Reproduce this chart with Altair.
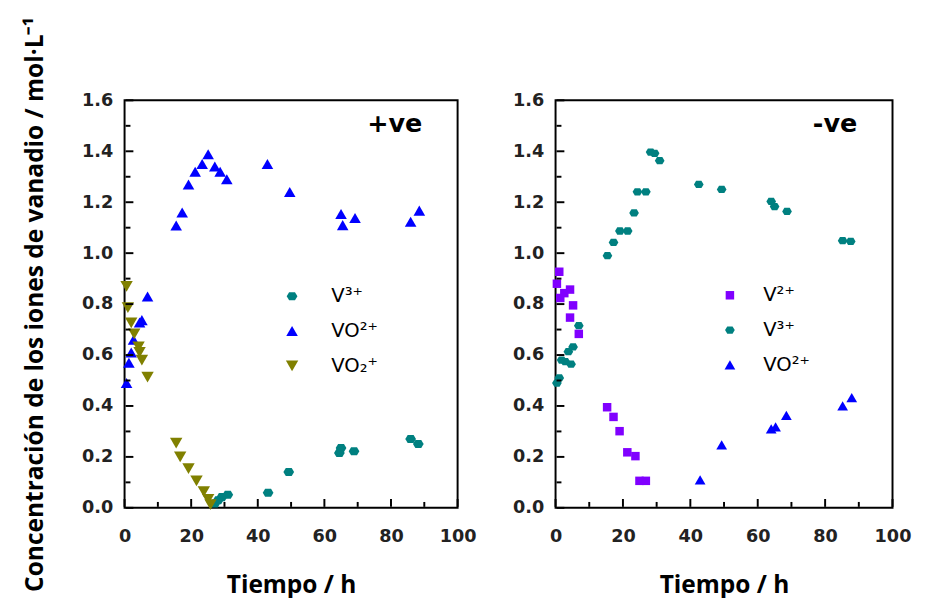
import altair as alt
import pandas as pd

# ---------------- data ----------------
# Left panel: +ve
pos_v3_t = [27.1, 28.1, 29.2, 31.0, 43.1, 49.3, 64.5, 65.0, 68.9, 85.9, 88.2]
pos_v3_c = [0.017, 0.030, 0.042, 0.051, 0.059, 0.141, 0.215, 0.235, 0.222, 0.270, 0.251]

pos_vo2_t = [0.6, 1.3, 2.0, 2.7, 4.5, 5.2, 6.9, 15.5, 17.3, 19.2, 21.2, 23.3, 25.1,
             27.1, 28.7, 30.7, 42.9, 49.6, 65.0, 65.5, 69.2, 85.9, 88.5]
pos_vo2_c = [0.49, 0.57, 0.61, 0.66, 0.728, 0.737, 0.83, 1.109, 1.16, 1.27, 1.32, 1.35, 1.388,
             1.34, 1.32, 1.29, 1.35, 1.24, 1.154, 1.11, 1.138, 1.123, 1.167]

pos_vo2p_t = [0.6, 1.0, 2.0, 2.9, 4.2, 4.5, 5.2, 6.9, 15.5, 16.7, 19.2, 21.6, 23.8, 25.1, 25.8]
pos_vo2p_c = [0.87, 0.786, 0.726, 0.683, 0.632, 0.61, 0.58, 0.513, 0.254, 0.20, 0.154, 0.106,
              0.064, 0.033, 0.013]

# Right panel: -ve
neg_v2_t = [0.4, 1.1, 1.4, 2.6, 4.3, 4.3, 5.2, 6.9, 15.3, 17.2, 19.0, 21.3, 23.7, 24.9, 26.8]
neg_v2_c = [0.88, 0.927, 0.824, 0.843, 0.857, 0.747, 0.795, 0.683, 0.395, 0.357, 0.301, 0.218,
            0.203, 0.106, 0.106]

neg_v3_t = [0.4, 1.1, 1.8, 2.9, 4.6, 3.8, 5.2, 6.9, 15.4, 17.2, 19.1, 21.4, 23.3, 24.3, 26.8,
            28.2, 29.4, 30.9, 42.5, 49.3, 64.0, 65.0, 68.7, 85.2, 87.6]
neg_v3_c = [0.49, 0.51, 0.58, 0.574, 0.564, 0.613, 0.632, 0.715, 0.99, 1.042, 1.087, 1.087, 1.158,
            1.241, 1.241, 1.397, 1.392, 1.363, 1.27, 1.25, 1.203, 1.183, 1.164, 1.049, 1.046]

neg_vo2_t = [42.9, 49.3, 64.0, 65.3, 68.5, 85.2, 87.9]
neg_vo2_c = [0.11, 0.247, 0.31, 0.318, 0.363, 0.40, 0.433]

ion_labels_pos = ["V³⁺", "VO²⁺", "VO₂⁺"]
ion_labels_neg = ["V²⁺", "V³⁺", "VO²⁺"]
panel_tags = ["+ve", "-ve"]

x_major = [0, 20, 40, 60, 80, 100]
x_minor = [10, 30, 50, 70, 90]
y_major = [0.0, 0.2, 0.4, 0.6, 0.8, 1.0, 1.2, 1.4, 1.6]
y_minor = [0.1, 0.3, 0.5, 0.7, 0.9, 1.1, 1.3, 1.5]

x_title = "Tiempo / h"
y_title = "Concentración de los iones de vanadio / mol·L⁻¹"


def frame(groups):
    rows = []
    for name, ts, cs in groups:
        for t, c in zip(ts, cs):
            rows.append({"ion": name, "t": t, "c": c})
    return pd.DataFrame(rows)


df_pos = frame([(ion_labels_pos[0], pos_v3_t, pos_v3_c),
                (ion_labels_pos[1], pos_vo2_t, pos_vo2_c),
                (ion_labels_pos[2], pos_vo2p_t, pos_vo2p_c)])
df_neg = frame([(ion_labels_neg[0], neg_v2_t, neg_v2_c),
                (ion_labels_neg[1], neg_v3_t, neg_v3_c),
                (ion_labels_neg[2], neg_vo2_t, neg_vo2_c)])

# ---------------- styling ----------------
H = 416
HEX = "M-1,0L-0.55,-0.75L0.55,-0.75L1,0L0.55,0.75L-0.55,0.75Z"
TEAL, BLUE, OLIVE, PURPLE = "#008080", "#0000FF", "#808000", "#8000FF"
TICK_FONT = "DejaVu Sans"
TITLE_FONT = "Open Sans"


def legend(leg_x, leg_y, lab_off):
    return alt.Legend(title=None, orient="none", legendX=leg_x, legendY=leg_y,
                      labelFont="DejaVu Sans", labelFontSize=20, labelColor="black",
                      symbolSize=110, symbolStrokeWidth=0, rowPadding=15.5,
                      labelOffset=lab_off, padding=0)


def panel(df, domain, colors, shapes, sizes, tag, W, leg_x, leg_y, lab_off, show_ytitle):
    xs = alt.Scale(domain=[0, 100], nice=False, zero=False)
    ys = alt.Scale(domain=[0, 1.6], nice=False, zero=False)
    xaxis = alt.Axis(
        values=x_major, format="d", ticks=False, tickSize=0, domain=False, grid=False,
        labelFont=TICK_FONT, labelFontWeight="bold", labelFontSize=18, labelColor="#222",
        labelPadding=20, labelFlush=False,
        title=x_title, titleFont=TITLE_FONT, titleFontSize=25, titleFontWeight="bold",
        titleColor="black", titlePadding=28)
    yaxis = alt.Axis(
        values=y_major, format=".1f", ticks=False, tickSize=0, domain=False, grid=False,
        labelFont=TICK_FONT, labelFontWeight="bold", labelFontSize=18, labelColor="#222",
        labelPadding=12, labelFlush=False,
        title=y_title if show_ytitle else None, titleFont=TITLE_FONT, titleFontSize=25,
        titleFontWeight="bold", titleColor="black", titlePadding=35)

    pts = alt.Chart(df).mark_point(filled=True, opacity=1, strokeWidth=0).encode(
        x=alt.X("t:Q", scale=xs, axis=xaxis),
        y=alt.Y("c:Q", scale=ys, axis=yaxis),
        color=alt.Color("ion:N", scale=alt.Scale(domain=domain, range=colors),
                        legend=legend(leg_x, leg_y, lab_off)),
        shape=alt.Shape("ion:N", scale=alt.Scale(domain=domain, range=shapes),
                        legend=legend(leg_x, leg_y, lab_off)),
        size=alt.Size("ion:N", scale=alt.Scale(domain=domain, range=sizes), legend=None),
    )

    layers = [pts]
    # inward ticks (major 8 px, minor 5 px) on left and bottom edges, placed through the scales
    for vals, length in ((y_major, 8), (y_minor, 5)):
        layers.append(alt.Chart(pd.DataFrame({"v": vals})).mark_tick(
            orient="horizontal", size=length, thickness=2, color="black", opacity=1).encode(
            y=alt.Y("v:Q", scale=ys, axis=yaxis), x=alt.value(length / 2 + 1)))
    for vals, length in ((x_major, 8), (x_minor, 5)):
        layers.append(alt.Chart(pd.DataFrame({"v": vals})).mark_tick(
            orient="vertical", size=length, thickness=2, color="black", opacity=1).encode(
            x=alt.X("v:Q", scale=xs, axis=xaxis), y=alt.value(H - length / 2 - 1)))

    layers.append(alt.Chart(pd.DataFrame({"tag": [tag]})).mark_text(
        font="DejaVu Sans", fontWeight="bold", fontSize=26, align="right", baseline="middle",
        color="black").encode(
        text="tag:N", x=alt.value(W - 36), y=alt.value(24)))

    return alt.layer(*layers).properties(width=W, height=H)


left = panel(df_pos, ion_labels_pos, [TEAL, BLUE, OLIVE], [HEX, "triangle-up", "triangle-down"],
             [120, 160, 160], panel_tags[0], 340, 161, 190, 30, True)
right = panel(df_neg, ion_labels_neg, [PURPLE, TEAL, BLUE], ["square", HEX, "triangle-up"],
              [75, 120, 160], panel_tags[1], 344, 168, 189, 24, False)

chart = alt.hconcat(left, right, spacing=35).resolve_scale(
    color="independent", shape="independent", size="independent"
).properties(
    padding={"left": 14, "top": 1, "right": 5, "bottom": 5},
    background="white",
).configure_view(stroke="black", strokeWidth=2)

chart.save("out.html", embed_options={"renderer": "svg", "actions": False})
